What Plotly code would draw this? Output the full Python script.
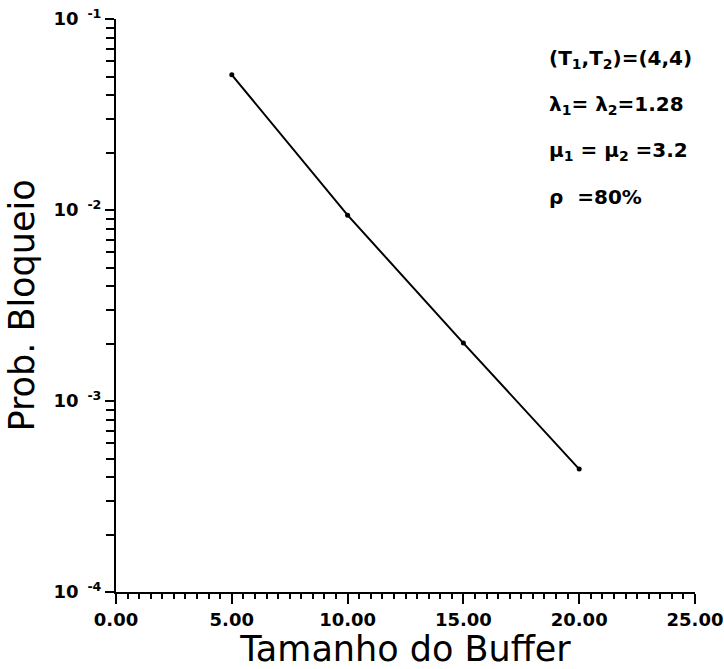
import plotly.graph_objects as go

buffer_size = [5, 10, 15, 20]
prob_bloqueio = [0.051, 0.0094, 0.00201, 0.00044]

y_tickvals = [1e-4, 1e-3, 1e-2, 1e-1]
y_ticktext = ["10<sup>  -4</sup>", "10<sup>  -3</sup>", "10<sup>  -2</sup>", "10<sup>  -1</sup>"]
x_tickvals = [0, 5, 10, 15, 20, 25]
x_ticktext = ["0.00", "5.00", "10.00", "15.00", "20.00", "25.00"]

annotations_text = [
    "(T<sub>1</sub>,T<sub>2</sub>)=(4,4)",
    "λ<sub>1</sub>= λ<sub>2</sub>=1.28",
    "μ<sub>1</sub> = μ<sub>2</sub> =3.2",
    "ρ  =80%",
]
annotations_y = [0.93, 0.85, 0.77, 0.69]

fig = go.Figure()
fig.add_trace(go.Scatter(
    x=buffer_size, y=prob_bloqueio, mode="lines+markers",
    line=dict(color="black", width=2),
    marker=dict(color="black", size=5),
    showlegend=False,
))

font_family = "DejaVu Sans"
fig.update_layout(
    width=724, height=669,
    margin=dict(l=116, r=29, t=19, b=77),
    plot_bgcolor="white", paper_bgcolor="white",
    font=dict(family=font_family, color="black"),
    xaxis=dict(
        range=[0, 25], tickvals=x_tickvals, ticktext=x_ticktext,
        automargin=False,
        showline=True, linecolor="black", linewidth=2,
        ticks="outside", ticklen=10, tickwidth=2, tickcolor="black",
        minor=dict(dtick=0.5, ticks="outside", ticklen=5, tickwidth=1.5, tickcolor="black", showgrid=False),
        showgrid=False, zeroline=False,
        tickfont=dict(size=18, family="DejaVu Sans", weight="bold"),
        title=dict(text="Tamanho do Buffer", font=dict(size=35), standoff=2),
    ),
    yaxis=dict(
        type="log", range=[-4, -1], tickvals=y_tickvals, ticktext=y_ticktext,
        automargin=False,
        showline=True, linecolor="black", linewidth=2,
        ticks="outside", ticklen=9, tickwidth=2, tickcolor="black",
        minor=dict(dtick="D1", ticks="outside", ticklen=8, tickwidth=1.5, tickcolor="black", showgrid=False),
        showgrid=False, zeroline=False,
        tickfont=dict(size=18, family="DejaVu Sans", weight="bold"),
        title=dict(text="Prob. Bloqueio", font=dict(size=35), standoff=8),
    ),
)

for txt, yy in zip(annotations_text, annotations_y):
    fig.add_annotation(
        text=txt, xref="paper", yref="paper", x=0.745, y=yy,
        xanchor="left", yanchor="middle", showarrow=False,
        font=dict(size=20, family="DejaVu Sans", weight="bold"),
    )

fig.write_html("out.html")
